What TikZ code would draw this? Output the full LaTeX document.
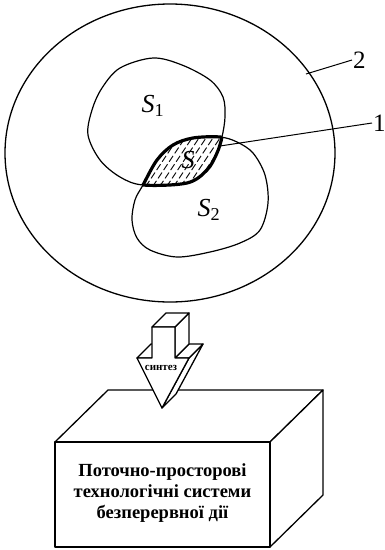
\documentclass[tikz,border=0pt]{standalone}
\usepackage{fontspec}
\setmainfont{Liberation Serif}
\usetikzlibrary{positioning,calc}
\tikzset{
  ring/.style={draw=black, line width=1.3pt},
  blob/.style={draw=black, line width=1.2pt},
  lensedge/.style={draw=black, line width=3.2pt},
  hatch/.style={draw=black, line width=0.9pt, dash pattern=on 7pt off 3pt},
  leader/.style={draw=black, line width=1pt},
  setlabel/.style={font=\fontsize{26}{28}\selectfont\itshape, inner sep=0pt},
  numlabel/.style={font=\fontsize{25}{27}\selectfont, inner sep=1pt},
  solid3d/.style={draw=black, fill=white, line width=1.3pt, line join=round},
  arrowtext/.style={font=\fontsize{11}{12}\selectfont\bfseries, inner sep=0pt},
  caption/.style={font=\fontsize{18.5}{21}\selectfont\bfseries, align=center}
}
\newcommand{\blobSone}{plot[smooth cycle, tension=0.55] coordinates {(143,185) (120,177) (100,160) (88,135) (92,110) (102,88) (120,68) (153,58) (182,65) (210,80) (223,97) (225,117) (222,137) (217,153) (207,170) (187,183)}}
\newcommand{\blobStwo}{plot[smooth cycle, tension=0.55] coordinates {(143,185) (157,160) (173,145) (193,138) (220,137) (237,142) (253,153) (265,175) (268,203) (260,230) (240,243) (210,252) (177,257) (150,250) (137,238) (132,220) (135,200)}}

\begin{document}
\begin{tikzpicture}[x=1pt, y=-1pt]
  \useasboundingbox (0,0) rectangle (385,550);

  % sets S1, S2 and their common part S
  \draw[ring] (170,153) ellipse [x radius=165, y radius=149];
  \begin{scope}
    \clip \blobSone;
    \clip \blobStwo;
    \foreach \k in {105,112,...,240}
      \draw[hatch] (\k,195) -- ++(40,-60);
  \end{scope}
  \draw[blob] \blobSone;
  \draw[blob] \blobStwo;
  \begin{scope}
    \clip \blobSone;
    \draw[lensedge] \blobStwo;
  \end{scope}
  \begin{scope}
    \clip \blobStwo;
    \draw[lensedge] \blobSone;
  \end{scope}

  \node[setlabel] (sone) at (153,106) {S\textsubscript{\upshape 1}};
  \node[setlabel] (stwo) at (209,210) {S\textsubscript{\upshape 2}};
  \node[setlabel] (scommon) at (188,160) {S};

  \coordinate (lenstip) at (220,146);
  \coordinate (ringpt) at (306,74);
  \node[numlabel, anchor=west] (one) at (372,123) {1};
  \node[numlabel, anchor=west] (two) at (352,60) {2};
  \draw[leader] (lenstip) -- (one.west);
  \draw[leader] (ringpt) -- (two.west);

  % box
  \coordinate (ftl) at (55,442);
  \coordinate (ftr) at (270,442);
  \coordinate (fbr) at (270,547);
  \draw[solid3d] (ftl) -- (ftr) -- ++(53,-52) -- ++(-215,0) -- cycle;
  \draw[solid3d] (ftr) -- (fbr) -- ++(53,-52) -- ++(0,-105) -- cycle;
  \draw[solid3d] (ftl) rectangle (fbr);
  \node[caption] (system) at (162.5,493) {Поточно-просторові\\технологічні системи\\безперервної дії};

  % block arrow
  \coordinate (sa) at (152,327);
  \coordinate (sb) at (175,327);
  \coordinate (sc) at (175,358);
  \coordinate (hd) at (189,358);
  \coordinate (tip) at (162,408);
  \coordinate (he) at (137,358);
  \coordinate (sf) at (152,358);
  \draw[solid3d] (hd) -- ++(14,-14) -- ($(tip)+(14,-14)$) -- (tip) -- cycle;
  \draw[solid3d] (sc) -- (hd) -- ++(14,-14) -- ++(-14,0) -- cycle;
  \draw[solid3d] (he) -- (sf) -- ++(14,-14) -- ++(-15,0) -- cycle;
  \draw[solid3d] (sb) -- ++(14,-14) -- ++(0,31) -- (sc) -- cycle;
  \draw[solid3d] (sa) -- (sb) -- ++(14,-14) -- ++(-23,0) -- cycle;
  \draw[solid3d] (sa) -- (sb) -- (sc) -- (hd) -- (tip) -- (he) -- (sf) -- cycle;
  \node[arrowtext] (synth) at (161,368) {синтез};
\end{tikzpicture}
\end{document}
